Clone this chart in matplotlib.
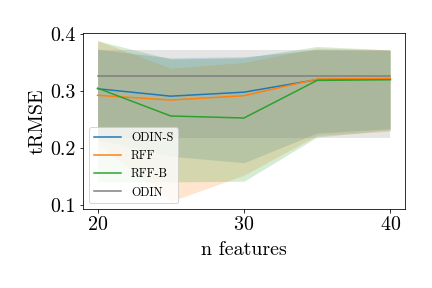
import matplotlib
matplotlib.use("Agg")
import matplotlib.pyplot as plt
import numpy as np

plt.rcParams['font.family'] = ['cmr10', 'DejaVu Serif']
plt.rcParams['mathtext.fontset'] = 'cm'
plt.rcParams['axes.unicode_minus'] = False
plt.rcParams['axes.formatter.use_mathtext'] = True

n_features = [20, 25, 30, 35, 40]

odin_s_mean = [0.304, 0.291, 0.298, 0.320, 0.3215]
odin_s_low = [0.215, 0.186, 0.1745, 0.2265, 0.234]
odin_s_high = [0.373, 0.358, 0.360, 0.372, 0.371]

rff_mean = [0.2925, 0.2842, 0.2918, 0.321, 0.322]
rff_low = [0.208, 0.107, 0.1527, 0.2225, 0.2295]
rff_high = [0.388, 0.340, 0.350, 0.375, 0.372]

rffb_mean = [0.305, 0.2563, 0.2528, 0.3186, 0.3197]
rffb_low = [0.141, 0.141, 0.1422, 0.2196, 0.232]
rffb_high = [0.388, 0.356, 0.358, 0.378, 0.372]

odin_mean = [0.327, 0.327, 0.327, 0.327, 0.327]
odin_low = [0.2185, 0.2185, 0.2185, 0.2185, 0.2185]
odin_high = [0.3715, 0.3715, 0.3715, 0.3715, 0.3715]

labels = ["ODIN-S", "RFF", "RFF-B", "ODIN"]
colors = ["tab:blue", "tab:orange", "tab:green", "tab:gray"]

fig = plt.figure(figsize=(6, 4), dpi=72)
ax = fig.add_axes([0.192, 0.273, 0.7455, 0.6135])

series = [
    (odin_s_mean, odin_s_low, odin_s_high),
    (rff_mean, rff_low, rff_high),
    (rffb_mean, rffb_low, rffb_high),
    (odin_mean, odin_low, odin_high),
]
for (m, lo, hi), lab, c in zip(series, labels, colors):
    ax.plot(n_features, m, color=c, label=lab, linewidth=1.5)
    ax.fill_between(n_features, lo, hi, color=c, alpha=0.2, linewidth=0)

ax.set_xticks([20, 30, 40])
ax.set_yticks([0.1, 0.2, 0.3, 0.4])
ax.set_yticklabels(["0.1", "0.2", "0.3", "0.4"])
ax.tick_params(labelsize=20)
ax.set_xlabel("n features", fontsize=20, labelpad=7)
ax.set_ylabel("tRMSE", fontsize=20)
ax.legend(loc="lower left", fontsize=12, handlelength=2.3)

fig.savefig("out.png", dpi=72)
